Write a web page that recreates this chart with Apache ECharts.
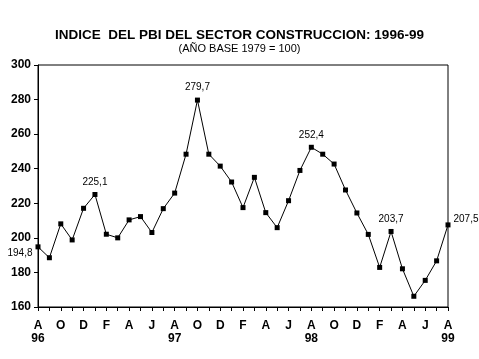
<!DOCTYPE html>
<html><head><meta charset="utf-8">
<script src="https://cdn.jsdelivr.net/npm/echarts@6/dist/echarts.min.js"></script>
<style>html,body{margin:0;padding:0;background:#fff}#c{width:479px;height:359px}</style>
</head><body><div id="c"></div>
<script>
var months = ['A','S','O','N','D','E','F','M','A','M','J','J',
              'A','S','O','N','D','E','F','M','A','M','J','J',
              'A','S','O','N','D','E','F','M','A','M','J','J','A'];
var yearLabels = {0:'96', 12:'97', 24:'98', 36:'99'};
var values = [194.8,188.5,208.1,198.8,217.1,225.1,202.1,200.0,210.4,212.3,203.1,216.9,
              225.9,248.4,279.7,248.4,241.5,232.3,217.5,235.0,214.6,205.9,221.5,239.0,
              252.4,248.4,242.7,227.7,214.4,202.0,182.9,203.7,182.1,166.2,175.4,186.7,207.5];
var labelled = {0:'left', 5:'top', 14:'top', 24:'top', 31:'top', 36:'right'};
var yTicks = {min:160, max:300, interval:20};

var seriesData = values.map(function(v,i){
  var item = {value:v};
  var pos = labelled[i];
  if (pos) {
    item.label = {show:true, position:pos, distance: pos==='top'?5:3,
      offset: pos==='left'?[0,6]:(pos==='right'?[0,-6]:[0,0])};
  }
  return item;
});

var chart = echarts.init(document.getElementById('c'), null, {renderer:'canvas'});
chart.setOption({
  animation:false,
  backgroundColor:'#fff',
  title:{
    text:'INDICE  DEL PBI DEL SECTOR CONSTRUCCION: 1996-99',
    subtext:'(AÑO BASE 1979 = 100)',
    left:'center', top:23, itemGap:1,
    textStyle:{fontFamily:'Liberation Sans, Arial', fontSize:13.5, fontWeight:'bold', color:'#000'},
    subtextStyle:{fontFamily:'Liberation Sans, Arial', fontSize:11, color:'#000'}
  },
  grid:{left:38, right:31, top:65, bottom:52, show:true, borderColor:'#000', borderWidth:1, backgroundColor:'transparent'},
  xAxis:{
    type:'category', data:months, boundaryGap:false,
    axisLine:{lineStyle:{color:'#000', width:1}},
    axisTick:{show:true, interval:0, length:4, lineStyle:{color:'#000'}},
    axisLabel:{interval:1, margin:12, color:'#000', fontFamily:'Liberation Sans, Arial', fontSize:12, fontWeight:'bold', lineHeight:13,
      formatter:function(v,i){ return yearLabels[i] ? v+'\n'+yearLabels[i] : v; }},
    splitLine:{show:false}
  },
  yAxis:{
    type:'value', min:yTicks.min, max:yTicks.max, interval:yTicks.interval,
    axisLine:{show:true, lineStyle:{color:'#000', width:1}},
    axisTick:{show:true, length:4, lineStyle:{color:'#000'}},
    axisLabel:{margin:7, color:'#000', fontFamily:'Liberation Sans, Arial', fontSize:12, fontWeight:'bold'},
    splitLine:{show:false}
  },
  series:[{
    type:'line', data:seriesData,
    symbol:'rect', symbolSize:5, showAllSymbol:true,
    lineStyle:{color:'#000', width:1},
    itemStyle:{color:'#000'},
    label:{show:false, color:'#000', fontFamily:'Liberation Sans, Arial', fontSize:10,
      formatter:function(p){ return p.value.toFixed(1).replace('.',','); }}
  }]
});
</script></body></html>
